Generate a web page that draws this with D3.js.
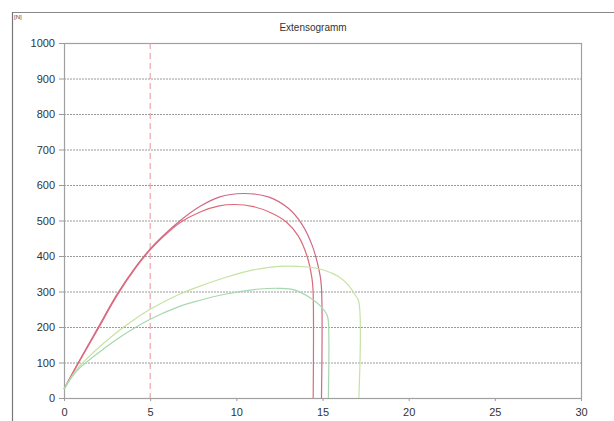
<!DOCTYPE html>
<html><head><meta charset="utf-8">
<script src="https://cdn.jsdelivr.net/npm/d3@7"></script>
<style>body{margin:0;background:#fff}svg{display:block}text{font-family:"Liberation Sans",Arial,sans-serif}</style>
</head><body><svg id="c" width="614" height="421"></svg>
<script>
const title = "Extensogramm";
const unitLabel = "[N]";
const xTicks = [0, 5, 10, 15, 20, 25, 30];
const yTicks = [0, 100, 200, 300, 400, 500, 600, 700, 800, 900, 1000];
const markerX = 5;

const r1X = [0, 0.74, 1.9, 3.1, 4.2, 5, 5.6, 6.7, 7.9, 9.0, 10.4, 11.9, 13.0, 13.8, 14.4, 14.8, 14.93, 14.94];
const r1Y = [25, 92, 192, 294, 372, 420, 450, 498, 540, 566, 576, 566, 535, 490, 430, 360, 318, 0];
const r2X = [0, 0.74, 1.9, 3.1, 4.2, 5, 5.6, 6.7, 7.9, 9.0, 9.9, 11.0, 12.0, 12.9, 13.6, 14.1, 14.38, 14.45, 14.46];
const r2Y = [25, 90, 188, 290, 369, 417, 447, 493, 524, 541, 545, 539, 522, 496, 456, 400, 340, 305, 0];
const g1X = [0, 0.73, 1.7, 3.2, 4.1, 5, 6.6, 7.5, 9.4, 10.9, 12.5, 14.1, 15.1, 15.9, 16.5, 16.9, 17.1, 17.11];
const g1Y = [25, 80, 128, 190, 222, 250, 290, 308, 340, 360, 371, 369, 360, 343, 318, 290, 272, 0];
const g2X = [0, 0.73, 1.7, 3.2, 5, 6.6, 7.5, 9.4, 11.35, 12.5, 13.4, 14.3, 14.9, 15.25, 15.33, 15.34];
const g2Y = [25, 76, 116, 170, 222, 256, 270, 293, 307, 309, 304, 282, 258, 235, 220, 0];

const seriesX = [r1X, r2X, g1X, g2X];
const seriesY = [r1Y, r2Y, g1Y, g2Y];
const seriesColor = ["#cf6a86", "#de6a78", "#c6e2a0", "#a6d8b0"];

const svg = d3.select("#c");
const m = {left: 64, right: 581, top: 43, bottom: 398};
const x = d3.scaleLinear().domain([0, 30]).range([m.left, m.right]);
const y = d3.scaleLinear().domain([0, 1000]).range([m.bottom, m.top]);

// outer frame
svg.append("line").attr("x1", 12).attr("x2", 614).attr("y1", 12.5).attr("y2", 12.5).attr("stroke", "#888").attr("stroke-width", 1.2);
svg.append("line").attr("x1", 12.5).attr("x2", 12.5).attr("y1", 12).attr("y2", 421).attr("stroke", "#777").attr("stroke-width", 1.2);
svg.append("text").attr("x", 14).attr("y", 19).attr("font-size", 6).attr("fill", "#444").text(unitLabel);
svg.append("text").attr("x", 313).attr("y", 31).attr("text-anchor", "middle").attr("font-size", 10).attr("fill", "#333").text(title);

// grid
svg.append("g").selectAll("line").data(yTicks.filter(d => d > 0 && d < 1000)).join("line")
  .attr("x1", m.left).attr("x2", m.right).attr("y1", d => y(d) + 0.5).attr("y2", d => y(d) + 0.5)
  .attr("stroke", "#9a9a9a").attr("stroke-dasharray", "2,1").attr("stroke-width", 1);

// axes
const yAxis = d3.axisLeft(y).tickValues(yTicks).tickFormat(d3.format("d")).tickSize(5).tickPadding(4);
const gy = svg.append("g").attr("transform", `translate(${m.left},0)`).call(yAxis);
const xAxis = d3.axisBottom(x).tickValues(xTicks).tickFormat(d3.format("d")).tickSize(3).tickPadding(7);
const gx = svg.append("g").attr("transform", `translate(0,${m.bottom})`).call(xAxis);
[gx, gy].forEach(g => {
  g.select(".domain").remove();
  g.selectAll(".tick line").attr("stroke", "#999");
  g.selectAll("text").attr("font-size", 11).attr("fill", "#333").attr("font-family", "Liberation Sans, Arial, sans-serif");
});

// plot frame
svg.append("rect").attr("x", m.left + 0.5).attr("y", m.top + 0.5).attr("width", m.right - m.left).attr("height", m.bottom - m.top)
  .attr("fill", "none").attr("stroke", "#a0a0a0").attr("stroke-width", 1.2);

// marker
svg.append("line").attr("x1", x(markerX)).attr("x2", x(markerX)).attr("y1", m.top).attr("y2", m.bottom)
  .attr("stroke", "#e8909e").attr("stroke-dasharray", "6,4").attr("stroke-width", 1);

// curves
const line = d3.line().x(d => x(d[0])).y(d => y(d[1])).curve(d3.curveCatmullRom.alpha(0.5));
seriesX.forEach((xs, i) => {
  const pts = xs.map((v, j) => [v, seriesY[i][j]]);
  svg.append("path").attr("d", line(pts)).attr("fill", "none").attr("stroke", seriesColor[i]).attr("stroke-width", 1.2);
});
</script></body></html>
